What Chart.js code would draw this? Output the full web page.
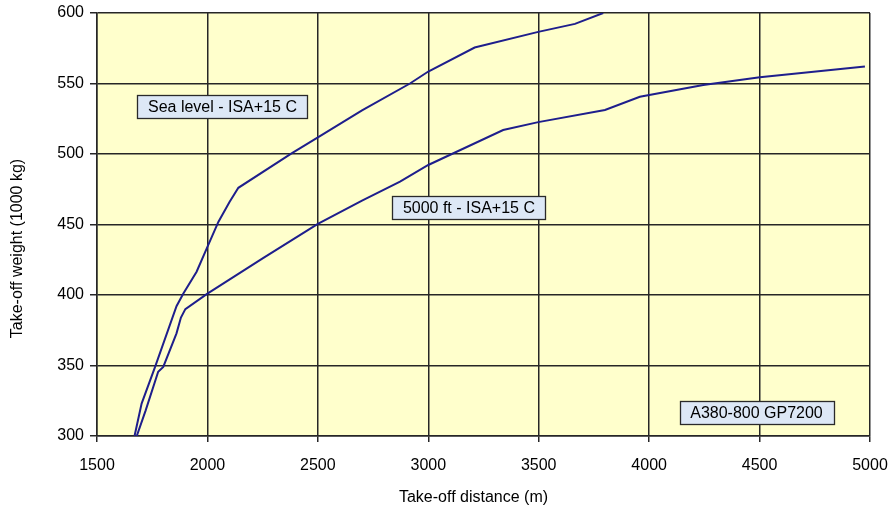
<!DOCTYPE html>
<html>
<head>
<meta charset="utf-8">
<script src="https://cdn.jsdelivr.net/npm/chart.js@4/dist/chart.umd.min.js"></script>
<style>
  html,body{margin:0;padding:0;background:#fff;}
  #wrap{width:888px;height:510px;position:relative;}
</style>
</head>
<body>
<div id="wrap"><canvas id="c" width="888" height="510"></canvas></div>
<script>
// ---- data ----
const seaLevelDist   = [1670,1702,1763,1860,1891,1951,1997,2050,2100,2140,2381,2502,2700,2917,3000,3210,3498,3664,3792];
const seaLevelWeight = [300,323,349,392,401,416.5,433,452,466,476,500.5,512,531,550,558.5,575.5,586.6,592.3,600];
const ft5000Dist     = [1680,1720,1777,1800,1860,1880,1900,2000,2250,2500,2700,2872,3000,3339,3498,3800,3958,4245,4501,4977];
const ft5000Weight   = [300,318,345.6,349,372.8,384,390,401,426,450.4,467,480.4,492.2,517,522.6,531.2,540.6,549,554.4,562];
const xTicks = [1500,2000,2500,3000,3500,4000,4500,5000];
const yTicks = [300,350,400,450,500,550,600];
const labelTexts = ["Sea level - ISA+15 C","5000 ft - ISA+15 C","A380-800 GP7200"];
const labelAnchors = [[2068,533.7],[3184,461.9],[4486,316.8]]; // data coordinates of label centres
const xTitle = "Take-off distance (m)";
const yTitle = "Take-off weight (1000 kg)";

const FONT = "'Liberation Sans', Arial, sans-serif";
const toPts = (xs, ys) => xs.map((x,i)=>({x:x,y:ys[i]}));

const bgPlugin = {
  id:'bg',
  beforeDraw(chart){
    const {ctx, chartArea:a} = chart;
    ctx.save();
    ctx.fillStyle = '#FFFFCC';
    ctx.fillRect(a.left, a.top, a.right-a.left, a.bottom-a.top);
    ctx.restore();
  },
  afterDraw(chart){
    const ctx = chart.ctx, xs = chart.scales.x, ys = chart.scales.y, a = chart.chartArea;
    ctx.save();
    ctx.font = '16px ' + FONT;
    ctx.textBaseline = 'middle';
    ctx.textAlign = 'center';
    labelTexts.forEach((t,i)=>{
      const cx = xs.getPixelForValue(labelAnchors[i][0]);
      const cy = ys.getPixelForValue(labelAnchors[i][1]);
      const w = ctx.measureText(t).width + 21;
      const h = 23;
      ctx.fillStyle = '#DDE8F6';
      ctx.fillRect(Math.round(cx-w/2)+0.5, Math.round(cy-h/2)+0.5, Math.round(w), h);
      ctx.strokeStyle = '#2a2a2a';
      ctx.lineWidth = 1.3;
      ctx.strokeRect(Math.round(cx-w/2)+0.5, Math.round(cy-h/2)+0.5, Math.round(w), h);
      ctx.fillStyle = '#000';
      ctx.fillText(t, cx, cy+1);
    });
    // axis titles
    ctx.fillStyle = '#000';
    ctx.fillText(xTitle, (a.left+a.right)/2 - 10, a.bottom + 62);
    ctx.translate(18, (a.top+a.bottom)/2 + 24);
    ctx.rotate(-Math.PI/2);
    ctx.fillText(yTitle, 0, 0);
    ctx.restore();
  }
};

new Chart(document.getElementById('c'), {
  type:'scatter',
  data:{
    datasets:[
      {label:labelTexts[0], data:toPts(seaLevelDist, seaLevelWeight), showLine:true, borderColor:'#1E1E8C', borderWidth:2, pointRadius:0, tension:0, fill:false},
      {label:labelTexts[1], data:toPts(ft5000Dist, ft5000Weight), showLine:true, borderColor:'#1E1E8C', borderWidth:2, pointRadius:0, tension:0, fill:false}
    ]
  },
  options:{
    responsive:false,
    animation:false,
    events:[],
    layout:{padding:{top:13, right:18, left:0, bottom:0}},
    plugins:{legend:{display:false}, tooltip:{enabled:false}},
    scales:{
      x:{
        type:'linear', min:1500, max:5000,
        afterBuildTicks(s){ s.ticks = xTicks.map(v=>({value:v})); },
        afterFit(s){ s.height = 74; s.paddingLeft = 0; s.paddingRight = 0; },
        grid:{color:'#262626', lineWidth:1.5, tickLength:6, drawOnChartArea:true},
        border:{color:'#262626', width:1.5},
        ticks:{color:'#000', font:{family:FONT, size:16}, padding:14, maxRotation:0, callback:v=>String(v)}
      },
      y:{
        type:'linear', min:300, max:600,
        afterBuildTicks(s){ s.ticks = yTicks.map(v=>({value:v})); },
        afterFit(s){ s.width = 97; s.paddingTop = 0; s.paddingBottom = 0; },
        grid:{color:'#262626', lineWidth:1.5, tickLength:7, drawOnChartArea:true},
        border:{color:'#262626', width:1.5},
        ticks:{color:'#000', font:{family:FONT, size:16}, padding:6, callback:v=>String(v)}
      }
    }
  },
  plugins:[bgPlugin]
});
</script>
</body>
</html>
